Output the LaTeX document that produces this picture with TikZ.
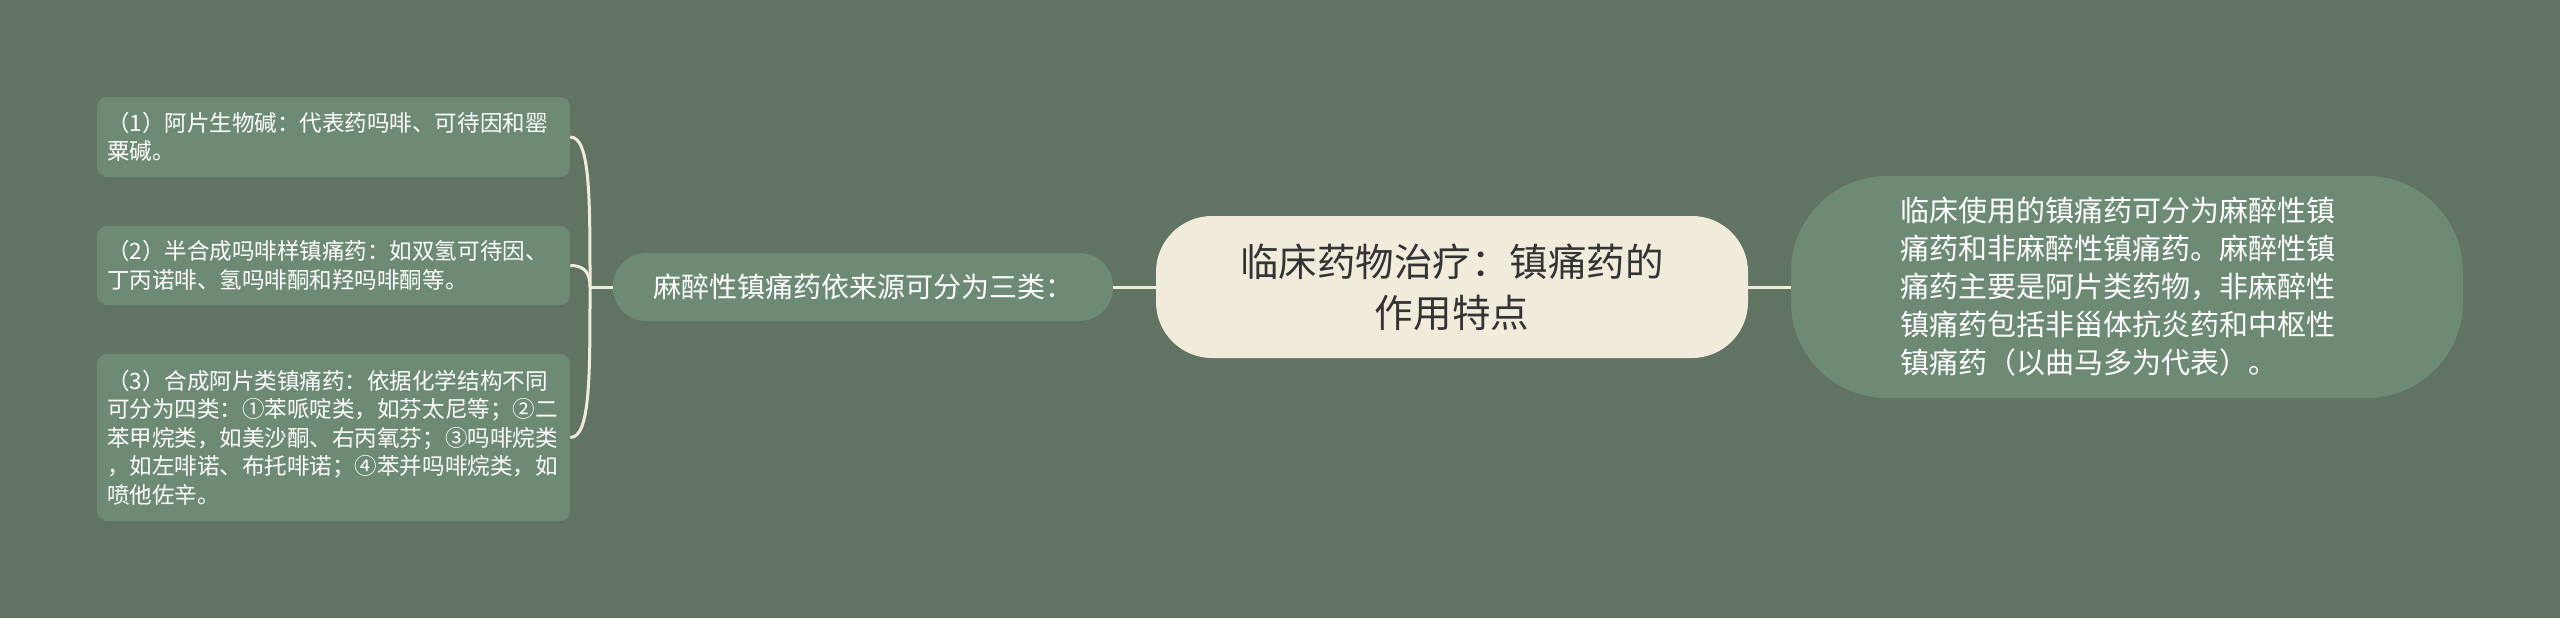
\documentclass[tikz,border=0pt]{standalone}
\usepackage{fontspec}
\setmainfont{Noto Sans CJK SC}
\definecolor{bg}{HTML}{617363}
\definecolor{boxg}{HTML}{6D8B74}
\definecolor{cream}{HTML}{F0EBDA}
\definecolor{darktext}{HTML}{333333}
\begin{document}
\begin{tikzpicture}[x=0.75pt,y=-0.75pt,
  leaf/.style={rectangle, rounded corners=7.5pt, fill=boxg, text=white,
    text width=339.75pt, inner xsep=7.5pt, inner ysep=0pt, align=left,
    font=\fontsize{16.9pt}{21.4pt}\selectfont},
  midnode/.style={rectangle, rounded corners=25pt, fill=boxg, text=white,
    minimum width=375pt, minimum height=51pt, inner sep=0pt, align=center,
    font=\fontsize{21pt}{28pt}\selectfont},
  rootnode/.style={rectangle, rounded corners=42pt, fill=cream, text=darktext,
    minimum width=444pt, minimum height=106.5pt, inner sep=0pt, align=center,
    font=\fontsize{28.9pt}{38.2pt}\selectfont},
  notenode/.style={rectangle, rounded corners=72pt, fill=boxg, text=white,
    text width=340.5pt, inner xsep=81.75pt, inner ysep=0pt, minimum height=166.5pt, align=left,
    font=\fontsize{21.75pt}{28.5pt}\selectfont},
  conn/.style={draw=cream, line width=2.25pt}]
\fill[bg] (0,0) rectangle (2560,618);
\useasboundingbox (0,0) rectangle (2560,618);

\node[leaf, minimum height=60pt] (l1) at (333.5,137) {（1）阿片生物碱：代表药吗啡、可待因和罂\\粟碱。};
\node[leaf, minimum height=59.25pt] (l2) at (333.5,265.5) {（2）半合成吗啡样镇痛药：如双氢可待因、\\丁丙诺啡、氢吗啡酮和羟吗啡酮等。};
\node[leaf, minimum height=125.25pt] (l3) at (333.5,437.5) {（3）合成阿片类镇痛药：依据化学结构不同\\可分为四类：①苯哌啶类，如芬太尼等；②二\\苯甲烷类，如美沙酮、右丙氧芬；③吗啡烷类\\，如左啡诺、布托啡诺；④苯并吗啡烷类，如\\喷他佐辛。};

\node[midnode] (m) at (863,287) {麻醉性镇痛药依来源可分为三类：};
\node[rootnode] (c) at (1452,287) {临床药物治疗：镇痛药的\\作用特点};
\node[notenode] (r) at (2127,287) {临床使用的镇痛药可分为麻醉性镇\\痛药和非麻醉性镇痛药。麻醉性镇\\痛药主要是阿片类药物，非麻醉性\\镇痛药包括非甾体抗炎药和中枢性\\镇痛药（以曲马多为代表）。};

\coordinate (j) at (590,287);
\draw[conn] (l1.east) .. controls +(20,0) and +(0,-90) .. (j);
\draw[conn] (l2.east) .. controls +(16,0) and +(0,-12) .. (j);
\draw[conn] (l3.east) .. controls +(20,0) and +(0,90) .. (j);
\draw[conn] (j) -- (m.west);
\draw[conn] (m.east) -- (c.west);
\draw[conn] (c.east) -- (r.west);
\end{tikzpicture}
\end{document}
